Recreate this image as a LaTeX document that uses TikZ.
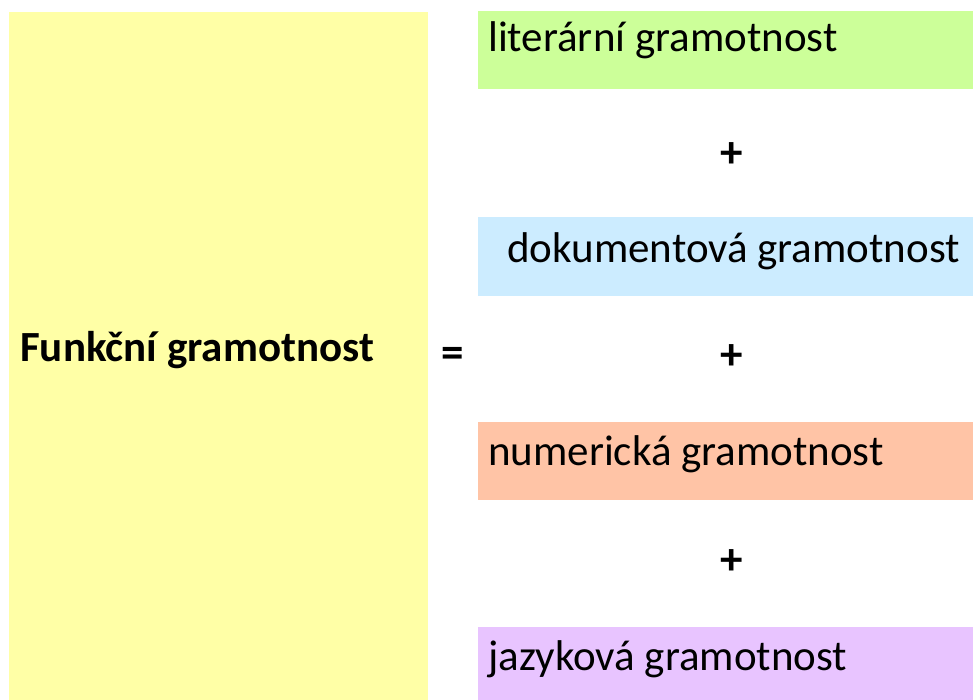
\documentclass[tikz,border=0pt]{standalone}
\usepackage{fontspec}
\setmainfont{Carlito}
\usepackage{tikz}

\definecolor{yellowbg}{HTML}{FFFFA6}
\definecolor{greenbg}{HTML}{CCFF99}
\definecolor{bluebg}{HTML}{CCECFF}
\definecolor{orangebg}{HTML}{FFC4A6}
\definecolor{violetbg}{HTML}{E8C4FF}

\begin{document}
\begin{tikzpicture}[x=1pt,y=-1pt]
            \tikzset{txt/.style={anchor=base west,inner sep=0pt,font=\fontsize{43}{51}\selectfont}};
            \tikzset{sign/.style={inner sep=0pt,font=\fontsize{45}{51}\selectfont\bfseries}};
            
            \useasboundingbox (0,0) rectangle (973,700);
            
            \fill[yellowbg] (9,12) rectangle (428,700);
            \node[txt,font=\fontsize{43}{51}\selectfont\bfseries] (fg) at (20,361) {Funkční gramotnost};
            \node[sign] (eq) at (453,357) {=};
            
            \fill[greenbg] (478,11) rectangle (973,89);
            \node[txt] (lit) at (488,52) {literární gramotnost};
            \node[sign] (p1) at (732,155) {+};
            
            \fill[bluebg] (478,217) rectangle (973,296);
            \node[txt] (dok) at (507,262) {dokumentová gramotnost};
            \node[sign] (p2) at (732,357) {+};
            
            \fill[orangebg] (478,422) rectangle (973,500);
            \node[txt] (num) at (488,465) {numerická gramotnost};
            \node[sign] (p3) at (732,562) {+};
            
            \fill[violetbg] (478,627) rectangle (973,700);
            \node[txt] (jaz) at (488,670) {jazyková gramotnost};
        \end{tikzpicture}
\end{document}
